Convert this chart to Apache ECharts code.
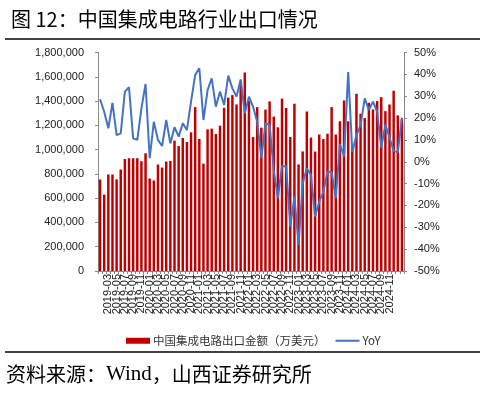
<!DOCTYPE html>
<html><head><meta charset="utf-8">
<script src="https://cdn.jsdelivr.net/npm/echarts@6/dist/echarts.min.js"></script>
<style>html,body{margin:0;padding:0;background:#fff}#c{width:485px;height:393px}</style>
</head><body><div id="c"></div>
<script>
var categories = ["2019-01","2019-02","2019-03","2019-04","2019-05","2019-06","2019-07","2019-08","2019-09","2019-10","2019-11","2019-12",
"2020-01","2020-02","2020-03","2020-04","2020-05","2020-06","2020-07","2020-08","2020-09","2020-10","2020-11","2020-12",
"2021-01","2021-02","2021-03","2021-04","2021-05","2021-06","2021-07","2021-08","2021-09","2021-10","2021-11","2021-12",
"2022-01","2022-02","2022-03","2022-04","2022-05","2022-06","2022-07","2022-08","2022-09","2022-10","2022-11","2022-12",
"2023-01","2023-02","2023-03","2023-04","2023-05","2023-06","2023-07","2023-08","2023-09","2023-10","2023-11","2023-12",
"2024-01","2024-02","2024-03","2024-04","2024-05","2024-06","2024-07","2024-08","2024-09","2024-10","2024-11","2024-12",
"2025-01","2025-02"];
var exportValue = [754000,630000,795000,795000,755000,836000,923000,929000,929000,929000,905000,970000,
762000,746000,877000,852000,902000,907000,1074000,1030000,1096000,1063000,1142000,1350000,
1088000,885000,1167000,1173000,1128000,1197000,1345000,1428000,1449000,1372000,1565000,1635000,
1400000,1104000,1350000,1181000,1330000,1397000,1272000,1184000,1420000,1343000,1104000,1378000,
878000,985000,1314000,1099000,984000,1124000,1087000,1131000,1350000,1124000,1234000,1405000,
1233000,1030000,1460000,1296000,1260000,1386000,1331000,1400000,1432000,1317000,1372000,1485000,
1282000,1255000];
var yoy = [28.6,22.9,15.3,27.0,12.2,13.0,32.1,34.1,10.7,10.0,24.4,35.6,
1.6,18.3,10.0,7.2,19.1,8.4,15.8,11.5,17.6,14.5,27.5,39.7,
42.8,19.1,32.8,38.2,25.2,32.1,26.0,39.4,33.6,29.8,37.7,22.2,
29.8,25.2,18.3,1.6,17.6,16.8,-3.8,-16.7,-1.9,-2.2,-29.7,-16.0,
-38.1,-9.9,-3.0,-6.1,-25.1,-18.3,-13.7,-4.5,-4.8,-16.7,8.1,2.4,
41.0,4.5,12.2,16.8,29.0,23.7,27.5,23.0,6.5,17.0,11.0,5.0,
4.3,20.2];
var seriesNames = ["中国集成电路出口金额（万美元）","YoY"];
var titleText = "图 12：中国集成电路行业出口情况";
var sourcePre = "资料来源：", sourceWind = "Wind", sourcePost = "，山西证券研究所";

var chart = echarts.init(document.getElementById('c'), null, {renderer:'canvas'});
var cjk = '"Noto Sans CJK SC", sans-serif';
var lat = '"Liberation Sans", Arial, sans-serif';
chart.setOption({
  animation:false,
  title:{text:titleText,left:6,top:4,textStyle:{fontFamily:cjk,fontSize:20,fontWeight:'normal',color:'#000'}},
  graphic:[
    {type:'line',shape:{x1:5,y1:39,x2:480,y2:39},style:{stroke:'#000',lineWidth:1.5}},
    {type:'line',shape:{x1:5,y1:352,x2:480,y2:352},style:{stroke:'#000',lineWidth:1.5}},
    {type:'text',left:6,top:364,style:{
      text:'{a|'+sourcePre+'}{b|'+sourceWind+'}{a|'+sourcePost+'}',
      rich:{a:{fontFamily:cjk,fontSize:20,fill:'#000'},b:{fontFamily:'"Liberation Serif", serif',fontSize:21,fill:'#000'}}}}
  ],
  legend:{top:330,left:121,itemGap:10,itemWidth:24,itemHeight:6,
    textStyle:{fontFamily:cjk,fontSize:11.5,color:'#333',padding:[0,0,0,-2]},
    data:[{name:seriesNames[0],icon:'rect'},{name:seriesNames[1],icon:'path://M0,0L24,0L24,2L0,2Z'}]},
  grid:{left:98,right:81,top:52.5,bottom:122,containLabel:false},
  xAxis:{type:'category',data:categories,boundaryGap:true,
    axisLine:{lineStyle:{color:'#888'}},
    axisTick:{show:true,interval:0,length:3,lineStyle:{color:'#888'}},
    axisLabel:{interval:function(i){return i%2===0;},rotate:90,fontSize:11,fontFamily:lat,color:'#222',margin:3,hideOverlap:false}},
  yAxis:[
    {type:'value',min:0,max:1800000,interval:200000,splitLine:{show:false},
      axisLine:{show:true,lineStyle:{color:'#888'}},axisTick:{show:true,length:3,lineStyle:{color:'#888'}},
      axisLabel:{fontSize:11,fontFamily:lat,color:'#222',margin:14,
        formatter:function(v){return v.toString().replace(/\B(?=(\d{3})+(?!\d))/g,',');}}},
    {type:'value',min:-50,max:50,interval:10,splitLine:{show:false},position:'right',
      axisLine:{show:true,lineStyle:{color:'#888'}},axisTick:{show:true,length:3,lineStyle:{color:'#888'}},
      axisLabel:{fontSize:11,fontFamily:lat,color:'#222',margin:10,formatter:'{value}%'}}
  ],
  series:[
    {name:seriesNames[0],type:'bar',data:exportValue,barWidth:'60%',itemStyle:{color:'#C00000'}},
    {name:seriesNames[1],type:'line',yAxisIndex:1,data:yoy,symbol:'none',lineStyle:{color:'#4472C4',width:2},itemStyle:{color:'#4472C4'}}
  ]
});
</script></body></html>
